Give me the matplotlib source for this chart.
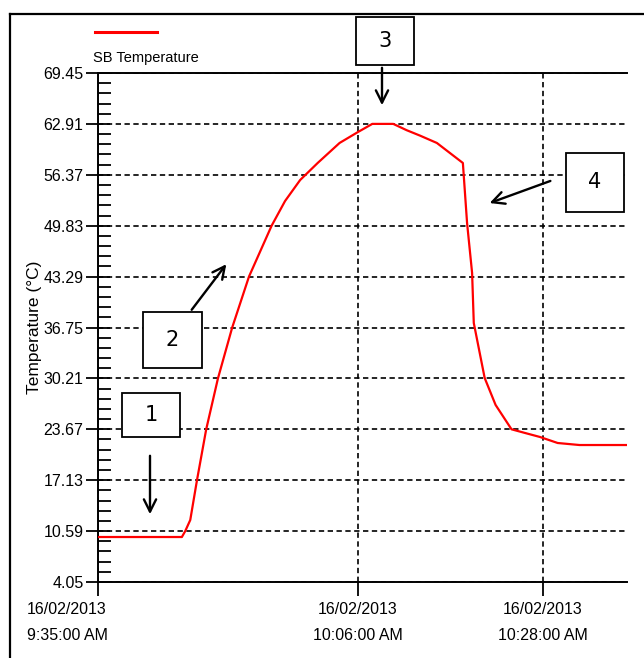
import matplotlib
matplotlib.use("Agg")
import matplotlib.pyplot as plt
from matplotlib.patches import Rectangle, FancyArrowPatch
from matplotlib.lines import Line2D
from matplotlib.ticker import AutoMinorLocator
from datetime import datetime

plt.rcParams['font.family'] = ['Liberation Sans', 'DejaVu Sans']

# ---- data ----
times = ["09:35:00", "09:45:00", "09:45:24", "09:46:00", "09:46:48", "09:47:54",
         "09:49:18", "09:51:00", "09:53:00", "09:55:42", "09:57:18", "09:59:06",
         "10:01:12", "10:03:48", "10:06:00", "10:07:42", "10:10:12", "10:11:48",
         "10:13:24", "10:15:24", "10:18:30", "10:19:00", "10:19:36", "10:19:48",
         "10:21:06", "10:22:24", "10:24:18", "10:25:54", "10:27:42", "10:29:48",
         "10:32:24", "10:38:00"]
temps = [9.83, 9.83, 10.59, 12.02, 17.13, 23.67,
         30.21, 36.75, 43.29, 49.83, 53.0, 55.70,
         57.9, 60.46, 61.87, 62.91, 62.91, 62.1,
         61.4, 60.46, 57.89, 50.18, 43.76, 37.33,
         30.26, 26.8, 23.67, 23.2, 22.68, 21.91,
         21.65, 21.65]
y_ticks = [4.05, 10.59, 17.13, 23.67, 30.21, 36.75, 43.29, 49.83, 56.37, 62.91, 69.45]
x_tick_times = ["09:35:00", "10:06:00", "10:28:00"]
x_tick_labels = ["16/02/2013\n9:35:00 AM", "16/02/2013\n10:06:00 AM", "16/02/2013\n10:28:00 AM"]
series_name = "SB Temperature"
annot_labels = ["1", "2", "3", "4"]

day = "2013-02-16 "
def to_dt(s):
    return datetime.strptime(day + s, "%Y-%m-%d %H:%M:%S")

xs = [to_dt(t) for t in times]
xt = [to_dt(t) for t in x_tick_times]

W, H = 644, 658
fig = plt.figure(figsize=(W / 100, H / 100), dpi=100)
fig.patch.set_facecolor('white')

def fx(px):
    return px / W
def fy(py):
    return 1 - py / H

ax = fig.add_axes([fx(98), fy(582), fx(627) - fx(98), fy(73) - fy(582)])
ax.plot(xs, temps, color='#ff0000', lw=1.6, zorder=3)

ax.set_ylim(4.05, 69.45)
ax.set_xlim(to_dt("09:35:00"), to_dt("10:38:04"))
ax.set_yticks(y_ticks)
ax.set_yticklabels([f"{v:.2f}" for v in y_ticks], fontsize=11.5)
ax.yaxis.set_minor_locator(AutoMinorLocator(5))
ax.set_xticks(xt)
# first date label sits shifted left of its tick in the reference: draw it separately
ax.set_xticklabels([""] + x_tick_labels[1:], fontsize=11.5, linespacing=1.9)
ax.annotate(x_tick_labels[0], xy=(xt[0], 0), xycoords=('data', 'axes fraction'),
            xytext=(-22.3, -14.5), textcoords='offset points',
            ha='center', va='top', fontsize=11.5, linespacing=1.9,
            annotation_clip=False)

ax.tick_params(axis='y', which='major', direction='inout', length=17, width=1.3, pad=2)
ax.tick_params(axis='y', which='minor', direction='in', length=9, width=1.3)
ax.tick_params(axis='x', which='major', direction='out', length=10, width=1.3, pad=4.5)

ax.grid(True, which='major', color='black', lw=1.2, linestyle=(0, (3.2, 2.1)))
ax.set_axisbelow(True)

for side in ['left', 'bottom', 'top']:
    ax.spines[side].set_linewidth(1.4)
    ax.spines[side].set_color('black')
ax.spines['right'].set_visible(False)

ax.set_ylabel("Temperature (°C)", fontsize=12.5, labelpad=1)

# legend (drawn manually above axes)
fig.add_artist(Line2D([fx(95), fx(157)], [fy(32), fy(32)], color='#ff0000', lw=2.2))
fig.text(fx(93), fy(58), series_name, fontsize=10.5, va='center', ha='left')

# figure frame
fig.add_artist(Line2D([fx(10), fx(10)], [0, fy(14)], color='black', lw=1.6))
fig.add_artist(Line2D([fx(10), 1], [fy(14), fy(14)], color='black', lw=1.6))

# annotation boxes
boxes = [(122, 393, 180, 437), (143, 312, 202, 368), (356, 17, 414, 65), (566, 153, 624, 212)]
arrows = [((150, 453), (150, 517)), ((190, 312), (228, 262)),
          ((382, 65), (382, 108)), ((553, 180), (487, 204))]
for lab, (x0, y0, x1, y1), (p0, p1) in zip(annot_labels, boxes, arrows):
    r = Rectangle((fx(x0), fy(y1)), fx(x1) - fx(x0), fy(y0) - fy(y1),
                  transform=fig.transFigure, facecolor='white', edgecolor='black',
                  lw=1.3, zorder=5)
    fig.add_artist(r)
    fig.text(fx((x0 + x1) / 2), fy((y0 + y1) / 2), lab, fontsize=15,
             family=['DejaVu Sans'], ha='center', va='center', zorder=6)
    a = FancyArrowPatch((fx(p0[0]), fy(p0[1])), (fx(p1[0]), fy(p1[1])),
                        transform=fig.transFigure, arrowstyle='->',
                        mutation_scale=22, lw=1.7, color='black', zorder=6)
    fig.add_artist(a)

fig.savefig("out.png", dpi=100)
